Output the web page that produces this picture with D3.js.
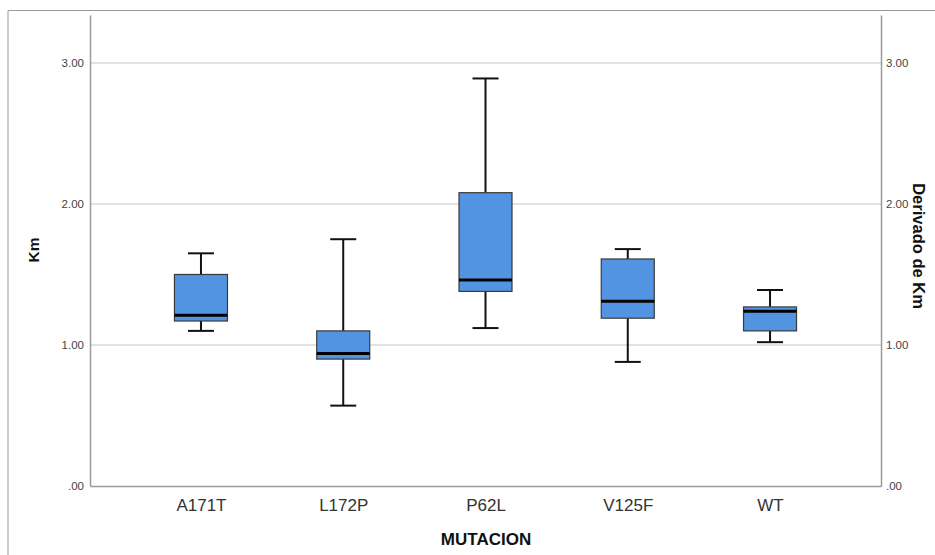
<!DOCTYPE html>
<html>
<head>
<meta charset="utf-8">
<script src="https://cdn.jsdelivr.net/npm/d3@7"></script>
<style>
  body { margin: 0; background: #fff; }
  svg { display: block; font-family: "Liberation Sans", Arial, sans-serif; }
</style>
</head>
<body>
<svg id="chart" width="935" height="555"></svg>
<script>
// datos (Km por mutación)
const categorias = ["A171T", "L172P", "P62L", "V125F", "WT"];
const minimos  = [1.10, 0.57, 1.12, 0.88, 1.02];
const q1s      = [1.17, 0.90, 1.38, 1.19, 1.10];
const medianas = [1.21, 0.94, 1.46, 1.31, 1.24];
const q3s      = [1.50, 1.10, 2.08, 1.61, 1.27];
const maximos  = [1.65, 1.75, 2.89, 1.68, 1.39];
const ticksY = [0, 1, 2, 3];

const cajas = categorias.map((c, i) => ({
    cat: c, min: minimos[i], q1: q1s[i], med: medianas[i], q3: q3s[i], max: maximos[i]
}));

const svg = d3.select("#chart");
const mLeft = 90, mRight = 881, mTop = 15, mBottom = 486;

const x = d3.scalePoint(categorias, [mLeft, mRight]).padding(0.78);
const y = d3.scaleLinear([0, 3.34], [mBottom, mTop]);

// marco exterior
svg.append("path")
    .attr("d", `M8,555 V10.5 H935`)
    .attr("fill", "none")
    .attr("stroke", "#9a9a9a")
    .attr("stroke-width", 1);

// rejilla
svg.append("g")
    .selectAll("line")
    .data(ticksY.filter(d => d > 0))
    .enter()
    .append("line")
    .attr("x1", mLeft).attr("x2", mRight)
    .attr("y1", d => y(d)).attr("y2", d => y(d))
    .attr("stroke", "#d9d9d9")
    .attr("stroke-width", 1.5);

const fmt = d => d === 0 ? ".00" : d3.format(".2f")(d);

const ejeIzq = svg.append("g")
    .attr("transform", `translate(${mLeft},0)`)
    .call(d3.axisLeft(y).tickValues(ticksY).tickFormat(fmt).tickSize(0).tickPadding(6));
const ejeDer = svg.append("g")
    .attr("transform", `translate(${mRight},0)`)
    .call(d3.axisRight(y).tickValues(ticksY).tickFormat(fmt).tickSize(0).tickPadding(5));
const ejeX = svg.append("g")
    .attr("transform", `translate(0,${mBottom})`)
    .call(d3.axisBottom(x).tickSize(0).tickPadding(13));

[ejeIzq, ejeDer, ejeX].forEach(g => {
    g.select(".domain").attr("stroke", "#9a9a9a").attr("stroke-width", 1.5);
    g.selectAll("text").attr("fill", "#444").attr("font-size", "11.5px");
});
ejeX.selectAll("text")
    .attr("font-size", "17px")
    .attr("fill", "#333");

// cajas
const bw = 53, cap = 26;
const g = svg.append("g")
    .selectAll("g")
    .data(cajas)
    .enter()
    .append("g");

g.append("line")
    .attr("x1", d => x(d.cat)).attr("x2", d => x(d.cat))
    .attr("y1", d => y(d.max)).attr("y2", d => y(d.q3))
    .attr("stroke", "#111").attr("stroke-width", 2);
g.append("line")
    .attr("x1", d => x(d.cat)).attr("x2", d => x(d.cat))
    .attr("y1", d => y(d.q1)).attr("y2", d => y(d.min))
    .attr("stroke", "#111").attr("stroke-width", 2);
g.append("line")
    .attr("x1", d => x(d.cat) - cap / 2).attr("x2", d => x(d.cat) + cap / 2)
    .attr("y1", d => y(d.max)).attr("y2", d => y(d.max))
    .attr("stroke", "#111").attr("stroke-width", 2);
g.append("line")
    .attr("x1", d => x(d.cat) - cap / 2).attr("x2", d => x(d.cat) + cap / 2)
    .attr("y1", d => y(d.min)).attr("y2", d => y(d.min))
    .attr("stroke", "#111").attr("stroke-width", 2);
g.append("rect")
    .attr("x", d => x(d.cat) - bw / 2)
    .attr("y", d => y(d.q3))
    .attr("width", bw)
    .attr("height", d => y(d.q1) - y(d.q3))
    .attr("fill", "#5294e2")
    .attr("stroke", "#3a3a3a")
    .attr("stroke-width", 1.2);
g.append("line")
    .attr("x1", d => x(d.cat) - bw / 2).attr("x2", d => x(d.cat) + bw / 2)
    .attr("y1", d => y(d.med)).attr("y2", d => y(d.med))
    .attr("stroke", "#000").attr("stroke-width", 3);

// títulos
svg.append("text")
    .attr("transform", `translate(39,250) rotate(-90)`)
    .attr("text-anchor", "middle")
    .attr("font-size", "15.5px")
    .attr("font-weight", "bold")
    .attr("fill", "#111")
    .text("Km");
svg.append("text")
    .attr("transform", `translate(913,246) rotate(90)`)
    .attr("text-anchor", "middle")
    .attr("font-size", "16.5px")
    .attr("font-weight", "bold")
    .attr("fill", "#111")
    .text("Derivado de Km");
svg.append("text")
    .attr("x", 486)
    .attr("y", 545)
    .attr("text-anchor", "middle")
    .attr("font-size", "17px")
    .attr("font-weight", "bold")
    .attr("fill", "#111")
    .text("MUTACION");
</script>
</body>
</html>
